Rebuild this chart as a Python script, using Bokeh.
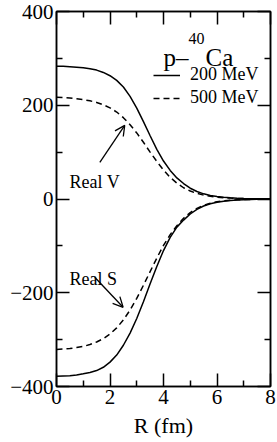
from bokeh.plotting import figure
from bokeh.models import (Range1d, FixedTicker, LinearAxis, Label, Arrow, OpenHead,
                          ColumnDataSource, Legend, LegendItem)
from bokeh.embed import file_html
from bokeh.resources import INLINE

# ---- data ----
R = [0.0, 0.25, 0.5, 0.75, 1.0, 1.25, 1.5, 1.75, 2.0, 2.25, 2.5, 2.75, 3.0, 3.25, 3.5, 3.75,
     4.0, 4.25, 4.5, 4.75, 5.0, 5.25, 5.5, 5.75, 6.0, 6.25, 6.5, 6.75, 7.0, 7.25, 7.5, 7.75, 8.0]
V_200 = [283, 283, 282, 281, 280, 278, 275, 270, 263, 253, 239, 219, 194, 165, 135, 106,
         81, 61, 45, 33, 23, 16, 11, 7.6, 5.2, 3.6, 2.5, 1.7, 1.2, 0.8, 0.5, 0.4, 0.3]
V_500 = [217, 216.5, 215.5, 214, 212, 209.5, 206, 201, 194.5, 185.5, 173.5, 158.5, 141, 121, 100, 80,
         62, 46, 34, 24, 17, 12, 8.3, 5.7, 3.9, 2.7, 1.9, 1.3, 0.9, 0.6, 0.4, 0.3, 0.2]
S_200 = [-378, -377.5, -377, -375.5, -373, -370, -366, -359, -348, -333, -312, -286, -255, -219, -181, -144,
         -110, -82, -60, -45, -32, -22, -15, -10, -6.8, -4.6, -3.1, -2.1, -1.4, -0.9, -0.6, -0.4, -0.3]
S_500 = [-321, -320, -319, -317, -314.5, -310.5, -305, -298, -288, -275, -258, -237, -212, -184, -155, -126,
         -99, -76, -57, -41, -29, -20, -13.5, -9, -6, -4, -2.7, -1.8, -1.2, -0.8, -0.5, -0.35, -0.25]

x_major = [0, 2, 4, 6, 8]
x_minor = [1, 3, 5, 7]
x_labels = ["0", "2", "4", "6", "8"]
y_major = [-400, -200, 0, 200, 400]
y_minor = [-300, -100, 100, 300]
y_labels = ["\u2212400", "\u2212200", "0", "200", "400"]
series_labels = ["200 MeV", "500 MeV"]

FONT = "Liberation Serif"

src = ColumnDataSource(dict(R=R, V200=V_200, V500=V_500, S200=S_200, S500=S_500))

p = figure(frame_width=214, frame_height=375, x_range=Range1d(0, 8), y_range=Range1d(-400, 400),
           output_backend="svg", toolbar_location=None,
           min_border_left=56, min_border_right=7, min_border_top=11, min_border_bottom=0)
p.xgrid.visible = False
p.ygrid.visible = False
p.outline_line_color = "black"
p.outline_line_width = 1.5
p.outline_line_alpha = 1.0
p.background_fill_color = "white"
p.border_fill_color = "white"


def style_axis(ax, major, minor, labels):
    ax.ticker = FixedTicker(ticks=major, minor_ticks=minor)
    ax.major_tick_in = 13
    ax.major_tick_out = 0
    ax.minor_tick_in = 6
    ax.minor_tick_out = 0
    ax.major_tick_line_width = 1.5
    ax.minor_tick_line_width = 1.5
    ax.axis_line_width = 1.5
    ax.major_tick_line_color = "black"
    ax.minor_tick_line_color = "black"
    ax.axis_line_color = "black"
    ax.major_label_text_font = FONT
    ax.major_label_text_font_size = "21px"
    ax.major_label_text_color = "black"
    ax.major_label_standoff = 3
    ax.major_label_overrides = {m: l for m, l in zip(major, labels)}


style_axis(p.xaxis[0], x_major, x_minor, x_labels)
p.xaxis[0].axis_label = "R (fm)"
p.xaxis[0].axis_label_text_font = FONT
p.xaxis[0].axis_label_text_font_size = "22px"
p.xaxis[0].axis_label_text_font_style = "normal"
p.xaxis[0].axis_label_text_color = "black"
p.xaxis[0].axis_label_standoff = 6
style_axis(p.yaxis[0], y_major, y_minor, y_labels)
top = LinearAxis()
style_axis(top, x_major, x_minor, ["" for _ in x_major])
top.major_label_standoff = 0
p.add_layout(top, "above")
right = LinearAxis()
style_axis(right, y_major, y_minor, ["" for _ in y_major])
right.major_label_standoff = 0
p.add_layout(right, "right")

r1 = p.line(x="R", y="V200", source=src, line_color="black", line_width=1.5)
r2 = p.line(x="R", y="V500", source=src, line_color="black", line_width=1.5, line_dash="6 4")
p.line(x="R", y="S200", source=src, line_color="black", line_width=1.5)
p.line(x="R", y="S500", source=src, line_color="black", line_width=1.5, line_dash="6 4")

legend = Legend(items=[LegendItem(label=series_labels[0], renderers=[r1]),
                       LegendItem(label=series_labels[1], renderers=[r2])],
                location=(97, 278), padding=0, margin=0, spacing=2,
                glyph_width=27, glyph_height=20, label_height=20, label_standoff=10,
                label_text_font=FONT, label_text_font_size="18px", label_text_color="black",
                border_line_color=None, background_fill_alpha=0)
p.add_layout(legend)

# title of the legend: p-40Ca
p.add_layout(Label(x=4.0, y=302, text="p\u2013", text_font=FONT, text_font_size="25px",
                   text_color="black", text_baseline="alphabetic"))
p.add_layout(Label(x=4.93, y=342, text="40", text_font=FONT, text_font_size="16px",
                   text_color="black", text_baseline="alphabetic"))
p.add_layout(Label(x=5.57, y=302, text="Ca", text_font=FONT, text_font_size="25px",
                   text_color="black", text_baseline="alphabetic"))

# annotations
p.add_layout(Label(x=0.49, y=36, text="Real V", text_font=FONT, text_font_size="18px",
                   text_color="black", text_baseline="alphabetic"))
p.add_layout(Label(x=0.49, y=-170, text="Real S", text_font=FONT, text_font_size="18px",
                   text_color="black", text_baseline="alphabetic"))
p.add_layout(Arrow(end=OpenHead(size=10, line_width=1.3, line_color="black"),
                   x_start=1.62, y_start=78, x_end=2.55, y_end=157,
                   line_width=1.3, line_color="black"))
p.add_layout(Arrow(end=OpenHead(size=10, line_width=1.3, line_color="black"),
                   x_start=1.43, y_start=-167, x_end=2.49, y_end=-231,
                   line_width=1.3, line_color="black"))

# y axis title (placed by hand so it can sit beside the tick labels, as in the original)
p.add_layout(Label(x=-1.5, y=0, text="potentials (MeV)", text_font=FONT, text_font_size="22px",
                   text_color="black", text_align="center", text_baseline="middle", angle=1.5707963))

open("out.html", "w").write(file_html(p, INLINE))
